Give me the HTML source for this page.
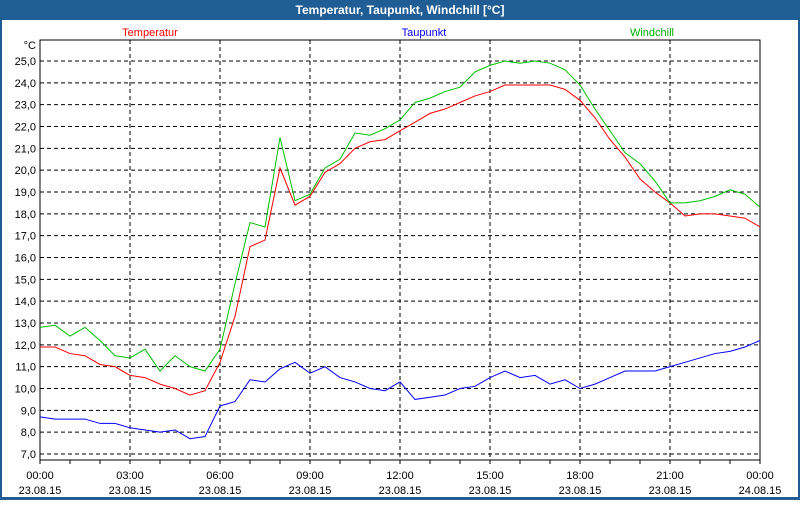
<!DOCTYPE html>
<html><head><meta charset="utf-8"><style>
body{margin:0;width:800px;height:500px;overflow:hidden;background:#fff;font-family:"Liberation Sans",sans-serif}
</style></head><body>
<svg id="c" width="800" height="500" xmlns="http://www.w3.org/2000/svg" font-family="Liberation Sans, sans-serif" font-size="11">
<rect x="0" y="0" width="800" height="500" fill="#1f5d94"/>
<rect x="2" y="20" width="796" height="477" fill="#fff"/>
<text x="400" y="14" text-anchor="middle" fill="#fff" font-weight="bold" font-size="12">Temperatur, Taupunkt, Windchill [°C]</text>
<text x="150" y="36" text-anchor="middle" fill="#ff0000">Temperatur</text>
<text x="424" y="36" text-anchor="middle" fill="#0000ff">Taupunkt</text>
<text x="652" y="36" text-anchor="middle" fill="#00b000">Windchill</text>
<text x="36" y="49" text-anchor="end" fill="#000">°C</text>
<g id="grid"></g><g id="series"></g>
</svg>
<script>
const hours=[0,0.5,1,1.5,2,2.5,3,3.5,4,4.5,5,5.5,6,6.5,7,7.5,8,8.5,9,9.5,10,10.5,11,11.5,12,12.5,13,13.5,14,14.5,15,15.5,16,16.5,17,17.5,18,18.5,19,19.5,20,20.5,21,21.5,22,22.5,23,23.5,24];
const temperatur=[11.9,11.9,11.6,11.5,11.1,11.0,10.6,10.5,10.2,10.0,9.7,9.9,11.2,13.3,16.5,16.8,20.1,18.4,18.8,19.9,20.3,21.0,21.3,21.4,21.8,22.2,22.6,22.8,23.1,23.4,23.6,23.9,23.9,23.9,23.9,23.7,23.2,22.4,21.4,20.6,19.6,19.0,18.5,17.9,18.0,18.0,17.9,17.8,17.4];
const windchill=[12.8,12.9,12.4,12.8,12.2,11.5,11.4,11.8,10.8,11.5,11.0,10.8,11.8,14.8,17.6,17.4,21.5,18.6,18.9,20.1,20.5,21.7,21.6,21.9,22.3,23.1,23.3,23.6,23.8,24.5,24.8,25.0,24.9,25.0,24.9,24.6,23.9,22.8,21.8,20.8,20.3,19.5,18.5,18.5,18.6,18.8,19.1,18.9,18.3];
const taupunkt=[8.7,8.6,8.6,8.6,8.4,8.4,8.2,8.1,8.0,8.1,7.7,7.8,9.2,9.4,10.4,10.3,10.9,11.2,10.7,11.0,10.5,10.3,10.0,9.9,10.3,9.5,9.6,9.7,10.0,10.1,10.5,10.8,10.5,10.6,10.2,10.4,10.0,10.2,10.5,10.8,10.8,10.8,11.0,11.2,11.4,11.6,11.7,11.9,12.2];
const yTicks=[7,8,9,10,11,12,13,14,15,16,17,18,19,20,21,22,23,24,25];
const xTicks=["00:00","03:00","06:00","09:00","12:00","15:00","18:00","21:00","00:00"];
const xDates=["23.08.15","23.08.15","23.08.15","23.08.15","23.08.15","23.08.15","23.08.15","23.08.15","24.08.15"];
const L=40,R=760,T=40,B=460;
const X=h=>L+h*(R-L)/24;
const Y=v=>454-(v-7)*(393/18);
const NS="http://www.w3.org/2000/svg";
const grid=document.getElementById('grid'),ser=document.getElementById('series');
function mk(tag,a,p){const e=document.createElementNS(NS,tag);for(const k in a)e.setAttribute(k,a[k]);p.appendChild(e);return e;}
yTicks.forEach(v=>{
 const l=mk('line',{x1:L,x2:R,y1:Y(v),y2:Y(v),stroke:'#000','stroke-dasharray':'4,3'},grid);
 
 
 const t=mk('text',{x:36,y:Y(v)+4,'text-anchor':'end',fill:'#000'},grid);t.textContent=v.toFixed(1).replace('.',',');
 
 
});
xTicks.forEach((s,i)=>{
 const x=X(i*3);
 if(i>0&&i<8){const l=mk('line',{x1:x,x2:x,y1:T,y2:B,stroke:'#000','stroke-dasharray':'4,3'},grid);
 
 }
 const t=mk('text',{x:x,y:479,'text-anchor':'middle',fill:'#000'},grid);t.textContent=s;
 
 
 const d=mk('text',{x:x,y:494,'text-anchor':'middle',fill:'#000'},grid);d.textContent=xDates[i];
 
 
});
for(let h=0;h<=24;h++){const k=mk('line',{x1:X(h),x2:X(h),y1:B,y2:B+4,stroke:'#000'},grid);
 
 }
const ax=mk('rect',{x:L,y:T,width:R-L,height:B-T,fill:'none',stroke:'#000'},grid);


function line(vals,col,name){const p=mk('polyline',{points:vals.map((v,i)=>X(hours[i])+','+Y(v)).join(' '),fill:'none',stroke:col,'stroke-width':1},ser);
 
 }
line(taupunkt,'#0000ff','taupunkt-line');
line(temperatur,'#ff0000','temperatur-line');
line(windchill,'#00c000','windchill-line');
</script>
</body></html>
